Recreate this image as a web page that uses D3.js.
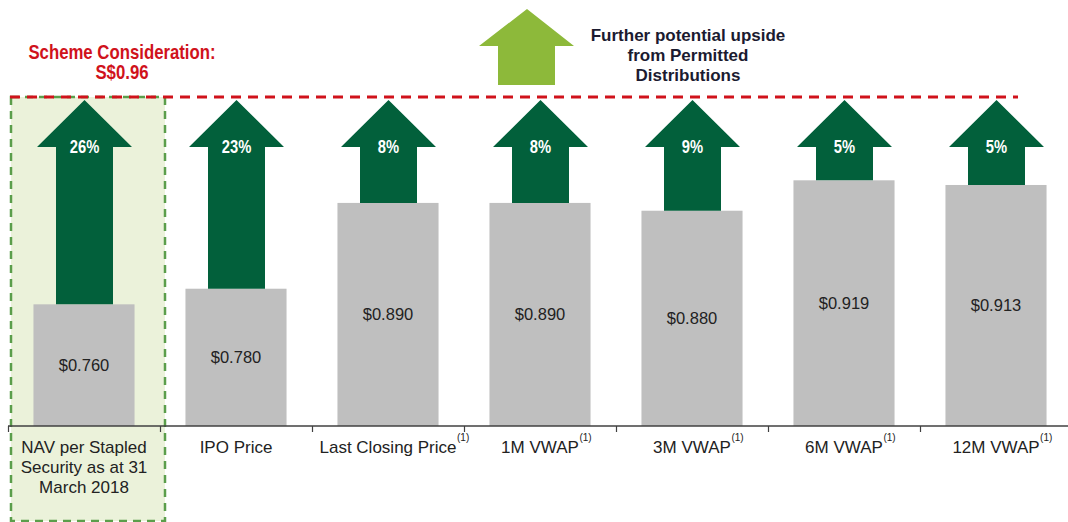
<!DOCTYPE html>
<html>
<head>
<meta charset="utf-8">
<script src="https://cdn.jsdelivr.net/npm/d3@7"></script>
<style>
  body { margin: 0; background: #fff; }
  svg { display: block; }
</style>
</head>
<body>
<div id="chart"></div>
<script>
// Chart data
var categories = ["nav", "ipo", "last", "1m", "3m", "6m", "12m"];
var categoryLines = [
  ["NAV per Stapled", "Security as at 31", "March 2018"],
  ["IPO Price"],
  ["Last Closing Price"],
  ["1M VWAP"],
  ["3M VWAP"],
  ["6M VWAP"],
  ["12M VWAP"]
];
var footnotes = ["", "", "(1)", "(1)", "(1)", "(1)", "(1)"];
var prices = [0.760, 0.780, 0.890, 0.890, 0.880, 0.919, 0.913];
var premiums = ["26%", "23%", "8%", "8%", "9%", "5%", "5%"];
var schemeLabel = ["Scheme Consideration:", "S$0.96"];
var upsideLabel = ["Further potential upside", "from Permitted", "Distributions"];

var svgWidth = 1068;
var svgHeight = 522;
var baseY = 426;     // axis line
var schemeY = 97;    // dashed scheme consideration line
var tipY = 100;      // top of the premium arrows

var svg = d3.select("#chart")
  .append("svg")
  .attr("width", svgWidth)
  .attr("height", svgHeight);

// scales
var xBand = d3.scaleBand()
  .domain(categories)
  .range([8, 1072])
  .padding(0);

var barW = xBand.bandwidth() * 0.665;

var yScale = d3.scaleLinear()
  .domain([0.604, 1.0])
  .range([baseY, baseY - 0.396 * 780]);

// highlight box behind the NAV column
svg.append("rect")
  .attr("x", 11)
  .attr("y", schemeY)
  .attr("width", 154)
  .attr("height", 424)
  .attr("fill", "#ebf2da")
  .attr("stroke", "#5b9e4b")
  .attr("stroke-width", 2.5)
  .attr("stroke-dasharray", "8,6");

// grey bars
svg.selectAll(".bar")
  .data(prices)
  .enter()
  .append("rect")
  .attr("class", "bar")
  .attr("x", (d, i) => xBand(categories[i]) + (xBand.bandwidth() - barW) / 2)
  .attr("y", d => yScale(d))
  .attr("width", barW)
  .attr("height", d => baseY - yScale(d))
  .attr("fill", "#bfbfbf");

// premium arrows from bar top up to the scheme line
function arrowPath(cx, bottom) {
  var headHalf = 47.5, shaftHalf = 28.5, headH = 47;
  var wingY = tipY + headH;
  return "M" + cx + "," + tipY +
    "L" + (cx + headHalf) + "," + wingY +
    "L" + (cx + shaftHalf) + "," + wingY +
    "L" + (cx + shaftHalf) + "," + bottom +
    "L" + (cx - shaftHalf) + "," + bottom +
    "L" + (cx - shaftHalf) + "," + wingY +
    "L" + (cx - headHalf) + "," + wingY + "Z";
}

svg.selectAll(".arrow")
  .data(prices)
  .enter()
  .append("path")
  .attr("class", "arrow")
  .attr("d", (d, i) => arrowPath(xBand(categories[i]) + xBand.bandwidth() / 2 + 0.5, yScale(d)))
  .attr("fill", "#02603b");

// narrow bold look: squeeze a regular sans horizontally
svg.selectAll(".pct")
  .data(premiums)
  .enter()
  .append("text")
  .attr("class", "pct")
  .attr("transform", (d, i) => "translate(" + (xBand(categories[i]) + xBand.bandwidth() / 2 + 0.5) + "," + (tipY + 53) + ") scale(0.82,1)")
  .attr("text-anchor", "middle")
  .attr("font-family", "'Liberation Sans', Arial, sans-serif")
  .attr("font-weight", "bold")
  .attr("font-size", "18px")
  .attr("fill", "#ffffff")
  .text(d => d);

// value labels in the middle of each bar
svg.selectAll(".val")
  .data(prices)
  .enter()
  .append("text")
  .attr("class", "val")
  .attr("x", (d, i) => xBand(categories[i]) + xBand.bandwidth() / 2)
  .attr("y", d => (yScale(d) + baseY) / 2 + 6)
  .attr("text-anchor", "middle")
  .attr("font-family", "'Liberation Sans', Arial, sans-serif")
  .attr("font-size", "16.5px")
  .attr("fill", "#222")
  .text(d => "$" + d3.format(".3f")(d));

// scheme consideration dashed line
svg.append("line")
  .attr("x1", 10)
  .attr("x2", 1018)
  .attr("y1", schemeY)
  .attr("y2", schemeY)
  .attr("stroke", "#d0121b")
  .attr("stroke-width", 3)
  .attr("stroke-dasharray", "10,7");

// x axis: line plus ticks at band boundaries
var axisG = svg.append("g").attr("class", "axis");
axisG.append("line")
  .attr("x1", 8)
  .attr("x2", 1068)
  .attr("y1", baseY)
  .attr("y2", baseY)
  .attr("stroke", "#404040")
  .attr("stroke-width", 1.5);

axisG.selectAll(".tick")
  .data(categories)
  .enter()
  .append("line")
  .attr("class", "tick")
  .attr("x1", d => xBand(d) + 0.5)
  .attr("x2", d => xBand(d) + 0.5)
  .attr("y1", baseY)
  .attr("y2", baseY + 6)
  .attr("stroke", "#404040")
  .attr("stroke-width", 1.2);

// category labels
categories.forEach(function(c, i) {
  var cx = xBand(c) + xBand.bandwidth() / 2;
  var t = axisG.append("text")
    .attr("x", cx)
    .attr("y", baseY + 27)
    .attr("text-anchor", "middle")
    .attr("font-family", "'Liberation Sans', Arial, sans-serif")
    .attr("font-size", "17px")
    .attr("fill", "#222");
  categoryLines[i].forEach(function(line, j) {
    t.append("tspan")
      .attr("x", cx)
      .attr("dy", j === 0 ? 0 : 20)
      .text(line);
  });
  if (footnotes[i]) {
    var len = t.node().getComputedTextLength();
    axisG.append("text")
      .attr("x", cx + len / 2 + 0.5)
      .attr("y", baseY + 15)
      .attr("font-family", "'Liberation Sans', Arial, sans-serif")
      .attr("font-size", "10px")
      .attr("fill", "#222")
      .text(footnotes[i]);
  }
});

// scheme consideration title
svg.append("text")
  .attr("transform", "translate(122,59) scale(0.86,1)")
  .attr("text-anchor", "middle")
  .attr("font-family", "'Liberation Sans', Arial, sans-serif")
  .attr("font-weight", "bold")
  .attr("font-size", "19.5px")
  .attr("fill", "#d0121b")
  .selectAll("tspan")
  .data(schemeLabel)
  .enter()
  .append("tspan")
  .attr("x", 0)
  .attr("dy", (d, i) => i === 0 ? 0 : 20)
  .text(d => d);

// light green "further upside" arrow
svg.append("path")
  .attr("d", "M527,9L574,46L555,46L555,85L498,85L498,46L479,46Z")
  .attr("fill", "#8db93a");

svg.append("text")
  .attr("x", 688)
  .attr("y", 41)
  .attr("text-anchor", "middle")
  .attr("font-family", "'Liberation Sans', Arial, sans-serif")
  .attr("font-weight", "bold")
  .attr("font-size", "17px")
  .attr("fill", "#1b1b30")
  .selectAll("tspan")
  .data(upsideLabel)
  .enter()
  .append("tspan")
  .attr("x", 688)
  .attr("dy", (d, i) => i === 0 ? 0 : 20)
  .text(d => d);
</script>
</body>
</html>
